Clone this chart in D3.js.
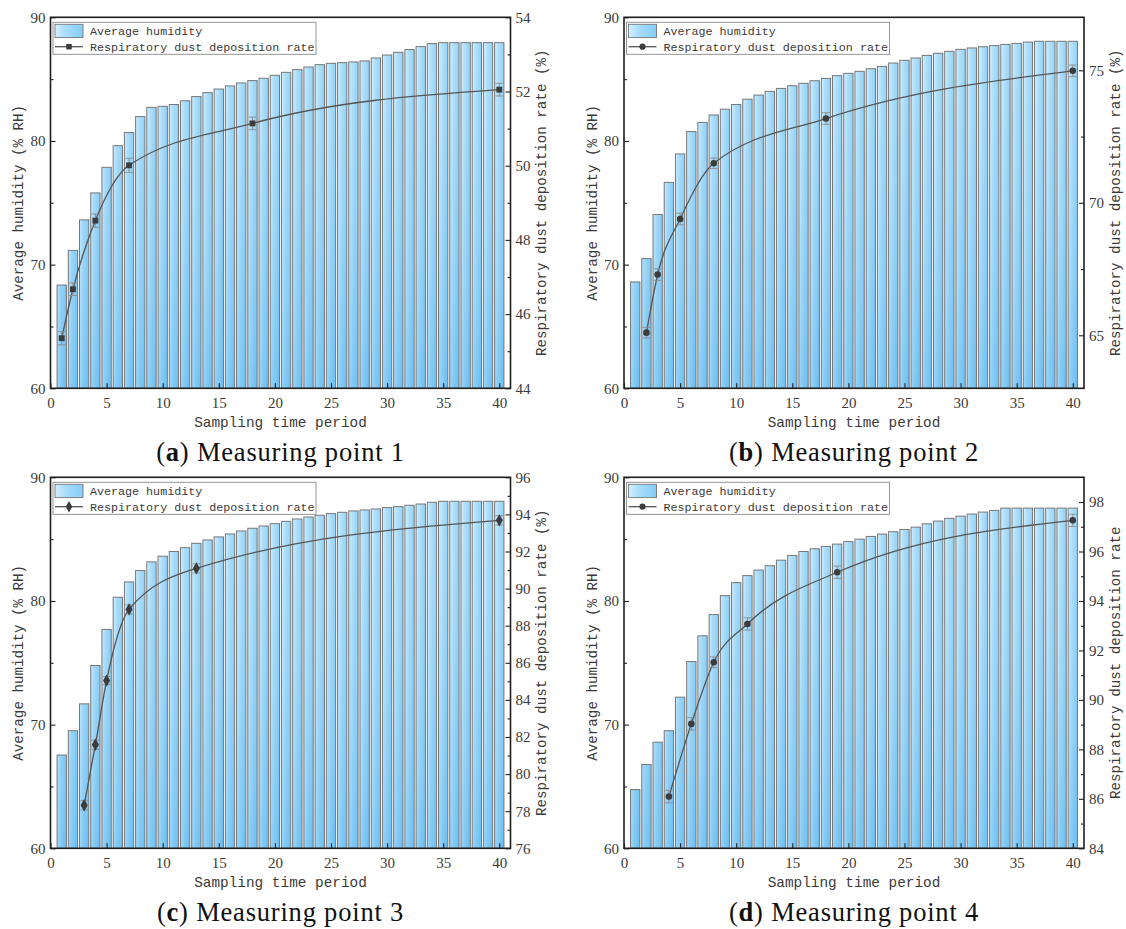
<!DOCTYPE html>
<html><head><meta charset="utf-8">
<script src="https://cdn.jsdelivr.net/npm/d3@7"></script>
<style>
html,body{margin:0;padding:0;background:#fff;}
svg{display:block;}
</style></head>
<body>
<svg id="chart" width="1126" height="929"></svg>
<script>
// ---------------- DATA ----------------
const periods = [1,2,3,4,5,6,7,8,9,10,11,12,13,14,15,16,17,18,19,20,21,22,23,24,25,26,27,28,29,30,31,32,33,34,35,36,37,38,39,40];

const humidityA = [68.35,71.15,73.62,75.8,77.87,79.62,80.68,81.97,82.72,82.8,82.95,83.25,83.59,83.91,84.2,84.45,84.69,84.88,85.07,85.31,85.55,85.77,85.98,86.17,86.28,86.33,86.39,86.47,86.71,86.95,87.17,87.39,87.63,87.87,87.95,87.95,87.95,87.95,87.95,87.95];
const humidityB = [68.6,70.49,74.05,76.65,78.95,80.76,81.5,82.1,82.57,82.95,83.38,83.71,84.01,84.25,84.47,84.66,84.87,85.06,85.28,85.47,85.63,85.84,86.03,86.3,86.52,86.71,86.92,87.09,87.25,87.41,87.52,87.62,87.71,87.81,87.89,88.0,88.06,88.06,88.06,88.06];
const humidityC = [67.54,69.51,71.68,74.78,77.7,80.3,81.54,82.46,83.16,83.62,84.0,84.31,84.66,84.93,85.18,85.42,85.66,85.88,86.06,86.25,86.44,86.63,86.79,86.93,87.06,87.17,87.28,87.36,87.44,87.55,87.63,87.74,87.84,87.98,88.06,88.06,88.06,88.06,88.06,88.06];
const humidityD = [64.75,66.78,68.58,69.51,72.22,75.1,77.18,78.9,80.43,81.48,82.05,82.5,82.85,83.3,83.68,84.0,84.22,84.41,84.6,84.8,85.0,85.22,85.41,85.6,85.78,85.97,86.24,86.46,86.68,86.86,87.03,87.19,87.32,87.51,87.51,87.51,87.51,87.51,87.51,87.51];

const ratePeriodsA = [1,2,4,7,18,40];
const rateA = [45.35,46.67,48.52,50.01,51.14,52.05];
const rateErrA = [0.18,0.17,0.18,0.19,0.17,0.17];

const ratePeriodsB = [2,3,5,8,18,40];
const rateB = [65.1,67.29,69.39,71.49,73.18,74.98];
const rateErrB = [0.2,0.22,0.22,0.2,0.22,0.22];

const ratePeriodsC = [3,4,5,7,13,40];
const rateC = [78.32,81.58,85.04,88.88,91.09,93.68];
const rateErrC = [0.25,0.25,0.22,0.25,0.25,0.25];

const ratePeriodsD = [4,6,8,11,19,40];
const rateD = [86.09,89.03,91.52,93.07,95.16,97.26];
const rateErrD = [0.25,0.25,0.22,0.25,0.25,0.25];

const xTicks = [0,5,10,15,20,25,30,35,40];
const leftTicks = [60,70,80,90];
const leftMinor = [65,75,85];

const rightTicksA = [44,46,48,50,52,54];
const rightTicksB = [65,70,75];
const rightTicksC = [76,78,80,82,84,86,88,90,92,94,96];
const rightTicksD = [84,86,88,90,92,94,96,98];
const rightMinorA = [45,47,49,51,53];
const rightMinorB = [67.5,72.5];
const rightMinorC = [77,79,81,83,85,87,89,91,93,95];
const rightMinorD = [85,87,89,91,93,95,97];

const rightDomainA = [44,54];
const rightDomainB = [63,77];
const rightDomainC = [76,96];
const rightDomainD = [84,99];

const legendLabels = ["Average humidity","Respiratory dust deposition rate"];
const xTitle = "Sampling time period";
const leftTitle = "Average humidity (% RH)";
const rightTitles = ["Respiratory dust deposition rate (%)","Respiratory dust deposition rate (%)","Respiratory dust deposition rate (%)","Respiratory dust deposition rate"];
const panelLetters = ["a","b","c","d"];
const panelNames = ["Measuring point 1","Measuring point 2","Measuring point 3","Measuring point 4"];

// ---------------- LAYOUT ----------------
const panels = [
  {left:50.5, top:17.3,  right:510.5, bottom:388.3, hum:humidityA, rx:ratePeriodsA, ry:rateA, re:rateErrA, rd:rightDomainA, rt:rightTicksA, rm:rightMinorA, marker:"square"},
  {left:624,  top:17.3,  right:1084,  bottom:388.3, hum:humidityB, rx:ratePeriodsB, ry:rateB, re:rateErrB, rd:rightDomainB, rt:rightTicksB, rm:rightMinorB, marker:"circle"},
  {left:50.5, top:477.3, right:510.5, bottom:848.3, hum:humidityC, rx:ratePeriodsC, ry:rateC, re:rateErrC, rd:rightDomainC, rt:rightTicksC, rm:rightMinorC, marker:"diamond"},
  {left:624,  top:477.3, right:1084,  bottom:848.3, hum:humidityD, rx:ratePeriodsD, ry:rateD, re:rateErrD, rd:rightDomainD, rt:rightTicksD, rm:rightMinorD, marker:"circle"}
];

const svg = d3.select("#chart");
const defs = svg.append("defs");
const hg = defs.append("linearGradient").attr("id","barH").attr("x1","0").attr("x2","1").attr("y1","0").attr("y2","0");
hg.append("stop").attr("offset","0%").attr("stop-color","#d4f0fd");
hg.append("stop").attr("offset","35%").attr("stop-color","#aadefa");
hg.append("stop").attr("offset","100%").attr("stop-color","#84cdf7");

const monoFont = "'Liberation Mono','DejaVu Sans Mono',monospace";
const serifFont = "'Liberation Serif','DejaVu Serif',serif";
const textColor = "#3a3a3a";

function markerPath(type, size){
  const sym = type==="square" ? d3.symbolSquare : type==="diamond" ? d3.symbolDiamond : d3.symbolCircle;
  return d3.symbol().type(sym).size(size)();
}

panels.forEach((p,i) => {
  const g = svg.append("g");
  const x = d3.scaleLinear().domain([0,41]).range([p.left,p.right]);
  const y = d3.scaleLinear().domain([60,90]).range([p.bottom,p.top]);
  const yr = d3.scaleLinear().domain(p.rd).range([p.bottom,p.top]);
  const bw = (x(1)-x(0))*0.83;

  const vg = defs.append("linearGradient").attr("id","barV"+i).attr("gradientUnits","userSpaceOnUse")
    .attr("x1",0).attr("x2",0).attr("y1",p.top).attr("y2",p.bottom);
  vg.append("stop").attr("offset","0%").attr("stop-color","#ffffff").attr("stop-opacity",0.12);
  vg.append("stop").attr("offset","100%").attr("stop-color","#2196e6").attr("stop-opacity",0.28);

  const bars = g.append("g");
  bars.selectAll("rect.base").data(p.hum).join("rect").attr("class","base")
    .attr("x",(d,j)=>x(periods[j])-bw/2).attr("width",bw)
    .attr("y",d=>y(d)).attr("height",d=>p.bottom-y(d))
    .attr("fill","url(#barH)");
  bars.selectAll("rect.shade").data(p.hum).join("rect").attr("class","shade")
    .attr("x",(d,j)=>x(periods[j])-bw/2).attr("width",bw)
    .attr("y",d=>y(d)).attr("height",d=>p.bottom-y(d))
    .attr("fill","url(#barV"+i+")")
    .attr("stroke","#777").attr("stroke-width",1);

  // rate line
  const pts = p.rx.map((v,j)=>({x:v,y:p.ry[j],e:p.re[j]}));
  g.append("path").datum(pts)
    .attr("d", d3.line().x(d=>x(d.x)).y(d=>yr(d.y)).curve(d3.curveMonotoneX))
    .attr("fill","none").attr("stroke","#555").attr("stroke-width",1.3);
  const eb = g.append("g").attr("stroke","#8c8c8c").attr("stroke-width",0.9).attr("fill","none");
  pts.forEach(d=>{
    const cx = x(d.x), y1 = yr(d.y+d.e), y2 = yr(d.y-d.e);
    eb.append("line").attr("x1",cx).attr("x2",cx).attr("y1",y1).attr("y2",y2);
    eb.append("line").attr("x1",cx-3.8).attr("x2",cx+3.8).attr("y1",y1).attr("y2",y1);
    eb.append("line").attr("x1",cx-3.8).attr("x2",cx+3.8).attr("y1",y2).attr("y2",y2);
  });
  g.selectAll("path.mk").data(pts).join("path").attr("class","mk")
    .attr("d", markerPath(p.marker, p.marker==="diamond"?44:34))
    .attr("transform",d=>`translate(${x(d.x)},${yr(d.y)})`)
    .attr("fill","#3c3c3c");

  // axes
  const axStyle = sel => {
    sel.select(".domain").remove();
    sel.selectAll("line").attr("stroke","#222").attr("stroke-width",1.1);
    sel.selectAll("text").attr("font-family",serifFont).attr("font-size",15).attr("fill",textColor);
  };
  g.append("g").attr("transform",`translate(${p.left},0)`)
    .call(d3.axisLeft(y).tickValues(leftTicks).tickSize(-5).tickPadding(5).tickFormat(d3.format("d"))).call(axStyle);
  g.append("g").attr("transform",`translate(${p.left},0)`)
    .call(d3.axisLeft(y).tickValues(leftMinor).tickSize(-3).tickFormat("")).call(axStyle);
  g.append("g").attr("transform",`translate(${p.right},0)`)
    .call(d3.axisRight(yr).tickValues(p.rt).tickSize(-5).tickPadding(5).tickFormat(d3.format("d"))).call(axStyle);
  g.append("g").attr("transform",`translate(${p.right},0)`)
    .call(d3.axisRight(yr).tickValues(p.rm).tickSize(-3).tickFormat("")).call(axStyle);
  g.append("g").attr("transform",`translate(0,${p.bottom})`)
    .call(d3.axisBottom(x).tickValues(xTicks).tickSize(-5).tickPadding(9).tickFormat(d3.format("d"))).call(axStyle);

  // frame
  g.append("rect").attr("x",p.left).attr("y",p.top).attr("width",p.right-p.left).attr("height",p.bottom-p.top)
    .attr("fill","none").attr("stroke","#1e1e1e").attr("stroke-width",1.6);

  // titles
  g.append("text").attr("x",(p.left+p.right)/2).attr("y",p.bottom+39).attr("text-anchor","middle")
    .attr("font-family",monoFont).attr("font-size",14.4).attr("fill",textColor).text(xTitle);
  g.append("text").attr("transform",`translate(${p.left-31},${(p.top+p.bottom)/2}) rotate(-90)`)
    .attr("text-anchor","middle").attr("dominant-baseline","middle")
    .attr("font-family",monoFont).attr("font-size",14.2).attr("fill",textColor).text(leftTitle);
  g.append("text").attr("transform",`translate(${p.right+32},${(p.top+p.bottom)/2}) rotate(-90)`)
    .attr("text-anchor","middle").attr("dominant-baseline","middle")
    .attr("font-family",monoFont).attr("font-size",14.2).attr("fill",textColor).text(rightTitles[i]);

  // panel caption
  const cap = g.append("text").attr("x",(p.left+p.right)/2).attr("y",p.bottom+73).attr("text-anchor","middle")
    .attr("font-family",serifFont).attr("font-size",26.5).attr("letter-spacing",0.8).attr("fill","#111");
  cap.append("tspan").text("(");
  cap.append("tspan").attr("font-weight","bold").text(panelLetters[i]);
  cap.append("tspan").text(") " + panelNames[i]);

  // legend
  const lg = g.append("g").attr("transform",`translate(${p.left+2.5},${p.top+5})`);
  lg.append("rect").attr("width",263).attr("height",32).attr("fill","#fff").attr("stroke","#8a8a8a").attr("stroke-width",0.9);
  lg.append("rect").attr("x",2).attr("y",2).attr("width",28).attr("height",13.3)
    .attr("fill","url(#barH)").attr("stroke","#777").attr("stroke-width",0.9);
  lg.append("line").attr("x1",2).attr("x2",30).attr("y1",24.4).attr("y2",24.4).attr("stroke","#555").attr("stroke-width",1.3);
  lg.append("path").attr("d",markerPath(p.marker, p.marker==="diamond"?38:30)).attr("transform","translate(16,24.4)").attr("fill","#3c3c3c");
  lg.append("text").attr("x",37).attr("y",13.2).attr("font-family",monoFont).attr("font-size",11.7).attr("fill",textColor).text(legendLabels[0]);
  lg.append("text").attr("x",37).attr("y",28.4).attr("font-family",monoFont).attr("font-size",11.7).attr("fill",textColor).text(legendLabels[1]);
});
</script>
</body></html>
